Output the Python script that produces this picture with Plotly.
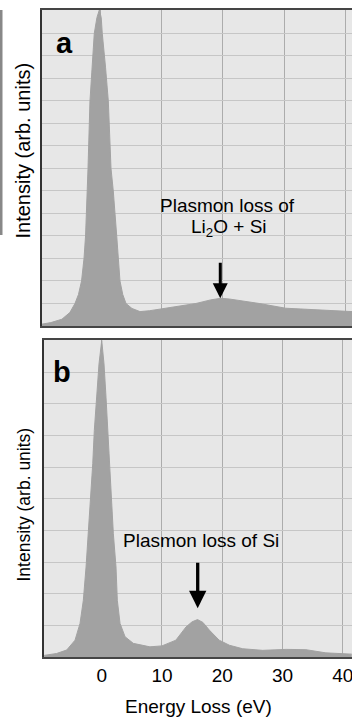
import plotly.graph_objects as go

# ---- data ----
x_a = [-9.5, -8.0, -6.2, -4.9, -4.07, -3.5, -3.0, -2.6, -2.35, -2.2, -2.06, -1.95, -1.63, -1.3,
       -0.93, -0.5, -0.1, 0.2, 0.37, 0.9, 1.35, 1.79, 2.16, 2.72, 3.25, 3.7, 4.23, 5.2, 6.5, 8.1,
       10.0, 12.4, 15.6, 18.0, 19.6, 21.0, 23.0, 25.9, 30.2, 35.0, 41.0]
y_a = [0.08, 0.15, 0.3, 0.6, 1.0, 1.4, 2.0, 3.0, 4.0, 5.0, 6.0, 7.0, 10.0, 11.6,
       13.0, 13.7, 14.05, 13.7, 13.0, 11.5, 10.0, 7.0, 6.0, 4.0, 2.0, 1.4, 1.0, 0.78, 0.64, 0.68,
       0.76, 0.86, 1.0, 1.16, 1.23, 1.2, 1.12, 1.0, 0.79, 0.72, 0.64]

x_b = [-9.55, -7.5, -5.81, -4.43, -3.6, -3.05, -2.6, -2.22, -1.94, -1.49, -1.23, -0.83, -0.45,
       0.0, 0.38, 0.71, 1.0, 1.26, 1.54, 1.93, 2.37, 2.59, 3.04, 3.87, 5.24, 8.0, 10.0, 12.3,
       14.0, 15.0, 15.9, 16.8, 17.9, 19.5, 21.2, 23.4, 26.7, 30.6, 33.9, 37.2, 41.5]
y_b = [0.06, 0.12, 0.23, 0.54, 1.07, 1.8, 2.85, 3.9, 4.95, 6.11, 7.16, 8.21, 9.26,
       10.0, 9.26, 8.21, 7.16, 6.11, 5.0, 3.9, 2.85, 1.8, 1.07, 0.65, 0.44, 0.33, 0.36, 0.54,
       0.96, 1.12, 1.19, 1.1, 0.85, 0.54, 0.38, 0.27, 0.22, 0.25, 0.24, 0.14, 0.1]

x_ticks = [0, 10, 20, 30, 40]
x_ticktext = ["0", "10", "20", "30", "40"]

label_a = "a"
label_b = "b"
note_a1 = "Plasmon loss of"
note_a2 = "Li<sub>2</sub>O + Si"
note_b = "Plasmon loss of Si"
peak_a = (19.56, 1.23)
peak_b = (15.93, 1.55)
y_title = "Intensity (arb. units)"
x_title = "Energy Loss (eV)"

W, H = 352, 718
FONT = "Arial, Liberation Sans, sans-serif"
FILL = "#a2a2a2"


def px(x):
    return x / W


def py(y):
    return 1 - y / H


fig = go.Figure()
fig.add_trace(go.Scatter(x=x_a, y=y_a, mode="lines", fill="tozeroy", fillcolor=FILL,
                         line=dict(color=FILL, width=1), xaxis="x", yaxis="y",
                         hoverinfo="skip", showlegend=False))
fig.add_trace(go.Scatter(x=x_b, y=y_b, mode="lines", fill="tozeroy", fillcolor=FILL,
                         line=dict(color=FILL, width=1), xaxis="x2", yaxis="y2",
                         hoverinfo="skip", showlegend=False))

xcommon = dict(showgrid=True, gridcolor="#acacac", gridwidth=1, zeroline=False,
               showline=True, mirror=True, linecolor="#454545", linewidth=2,
               tickvals=x_ticks, ticktext=x_ticktext, ticks="")
ycommon = dict(showgrid=True, gridcolor="#c6c6c6", gridwidth=1, zeroline=False, dtick=1,
               showline=True, linecolor="#333333", linewidth=2, showticklabels=False,
               ticks="")

fig.update_layout(
    width=W, height=H,
    margin=dict(l=0, r=0, t=0, b=0),
    paper_bgcolor="white",
    plot_bgcolor="#e7e7e7",
    font=dict(family=FONT, color="black"),
    xaxis=dict(domain=[px(41.7), 1], range=[-9.48, 40.98], anchor="y",
               showticklabels=False, **xcommon),
    yaxis=dict(domain=[py(326), py(10)], range=[0, 14.04], anchor="x", **ycommon),
    xaxis2=dict(domain=[px(44), 1], range=[-9.58, 41.54], anchor="y2",
                showticklabels=True, ticklabeloverflow="allow",
                tickfont=dict(size=19, family=FONT, color="black"), **xcommon),
    yaxis2=dict(domain=[py(657.3), py(339.5)], range=[0, 10.03], anchor="x2", **ycommon),
)

ann = []
# panel labels
ann.append(dict(text="<b>%s</b>" % label_a, x=px(64), y=py(43), xref="paper", yref="paper",
                showarrow=False, font=dict(size=29, family=FONT), xanchor="center", yanchor="middle"))
ann.append(dict(text="<b>%s</b>" % label_b, x=px(62), y=py(372), xref="paper", yref="paper",
                showarrow=False, font=dict(size=29, family=FONT), xanchor="center", yanchor="middle"))
# notes
ann.append(dict(text=note_a1, x=px(227), y=py(205), xref="paper", yref="paper",
                showarrow=False, font=dict(size=19, family=FONT), xanchor="center", yanchor="middle"))
ann.append(dict(text=note_a2, x=px(229), y=py(228), xref="paper", yref="paper",
                showarrow=False, font=dict(size=19, family=FONT), xanchor="center", yanchor="middle"))
ann.append(dict(text=note_b, x=px(201.5), y=py(540), xref="paper", yref="paper",
                showarrow=False, font=dict(size=19, family=FONT), xanchor="center", yanchor="middle"))
# arrows
ann.append(dict(text="", x=peak_a[0], y=peak_a[1], xref="x", yref="y", showarrow=True,
                ax=0, ay=-37, arrowhead=2, arrowsize=1, arrowwidth=3, arrowcolor="black"))
ann.append(dict(text="", x=peak_b[0], y=peak_b[1], xref="x2", yref="y2", showarrow=True,
                ax=0, ay=-47, arrowhead=2, arrowsize=1.05, arrowwidth=3.3, arrowcolor="black"))
# axis titles
ann.append(dict(text=y_title, x=px(23), y=py(150.5), xref="paper", yref="paper", textangle=-90,
                showarrow=False, font=dict(size=20, family=FONT), xanchor="center", yanchor="middle"))
ann.append(dict(text=y_title, x=px(23.5), y=py(505), xref="paper", yref="paper", textangle=-90,
                showarrow=False, font=dict(size=17.5, family=FONT),
                xanchor="center", yanchor="middle"))
ann.append(dict(text=x_title, x=px(198), y=py(706), xref="paper", yref="paper",
                showarrow=False, font=dict(size=19, family=FONT), xanchor="center", yanchor="middle"))
fig.update_layout(annotations=ann)

# thin grey edge bar at the far left of panel a
fig.add_shape(type="rect", xref="paper", yref="paper", x0=0, x1=px(2.5), y0=py(235), y1=py(10),
              fillcolor="#6a6a6a", line=dict(width=0), opacity=0.8, layer="above")

fig.write_html("out.html")
